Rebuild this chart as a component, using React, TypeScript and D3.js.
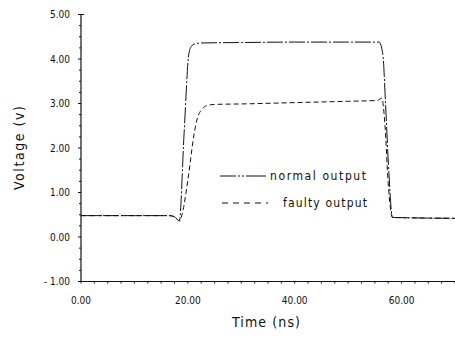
import React from "react";
import * as d3 from "d3";

const yTickValues = [5, 4, 3, 2, 1, 0, -1];
const xTickValues = [0, 20, 40, 60];

const normalT = [0, 10, 16.5, 17.4, 18.0, 18.4, 19.3, 20.2, 20.7, 21.3, 22.5, 30, 40, 50, 55.8, 56.5, 57.0, 57.6, 58.3, 62, 70];
const normalV = [0.48, 0.48, 0.48, 0.46, 0.40, 0.36, 2.34, 4.13, 4.29, 4.34, 4.36, 4.37, 4.38, 4.38, 4.38, 4.1, 3.0, 1.5, 0.44, 0.43, 0.42];

const faultyT = [0, 10, 16.5, 17.4, 18.0, 18.4, 18.9, 20.0, 21.2, 21.8, 22.5, 23.5, 25, 30, 40, 50, 55.5, 56.3, 56.9, 57.5, 58.3, 62, 70];
const faultyV = [0.48, 0.48, 0.48, 0.46, 0.40, 0.36, 0.5, 1.28, 2.34, 2.68, 2.85, 2.95, 2.98, 2.99, 3.02, 3.05, 3.07, 3.12, 2.5, 1.2, 0.44, 0.43, 0.42];

const legendLabels = ["normal output", "faulty output"];

const W = 455;
const H = 344;
const font = "'DejaVu Sans Condensed', 'Liberation Sans Narrow', 'DejaVu Sans', sans-serif";

export default function App() {
  const x = d3.scaleLinear().domain([0, 70]).range([81, 455]);
  const y = d3.scaleLinear().domain([-1, 5]).range([281.5, 14.5]);

  const line = d3
    .line<[number, number]>()
    .x((d) => x(d[0]))
    .y((d) => y(d[1]))
    .curve(d3.curveMonotoneX);

  const normalPts = normalT.map((t, i) => [t, normalV[i]] as [number, number]);
  const faultyPts = faultyT.map((t, i) => [t, faultyV[i]] as [number, number]);

  const yMinor = d3.range(-1, 5.001, 0.25);
  const xMinor = d3.range(0, 70.001, 2.5);

  return (
    <svg
      width={W}
      height={H}
      style={{ position: "absolute", left: 0, top: 0, background: "#fff" }}
      fontFamily={font}
    >
      <rect x={0} y={0} width={W} height={H} fill="#fff" />
      {/* axes */}
      <line x1={x(0)} x2={x(0)} y1={y(5)} y2={y(-1)} stroke="#111" strokeWidth={1.2} />
      <line x1={x(0)} x2={x(70)} y1={y(-1)} y2={y(-1)} stroke="#111" strokeWidth={1.2} />
      <line x1={x(0)} x2={x(0) + 3} y1={y(5)} y2={y(5)} stroke="#111" strokeWidth={1} />
      {yMinor.map((v, i) => (
        <line key={"ym" + i} x1={x(0) - (Math.abs(v - Math.round(v)) < 1e-6 ? 3 : 2)} x2={x(0)} y1={y(v)} y2={y(v)} stroke="#111" strokeWidth={1} />
      ))}
      {xMinor.map((v, i) => (
        <line key={"xm" + i} x1={x(v)} x2={x(v)} y1={y(-1)} y2={y(-1) + 2} stroke="#111" strokeWidth={1} />
      ))}
      {yTickValues.map((v) => (
        <text key={"yl" + v} x={70} y={y(v)} dy="0.35em" textAnchor="end" fontSize={10} fill="#111">
          {v < 0 ? "- " + Math.abs(v).toFixed(2) : v.toFixed(2)}
        </text>
      ))}
      {xTickValues.map((v) => (
        <text key={"xl" + v} x={x(v)} y={300} dy="0.35em" textAnchor="middle" fontSize={10} fill="#111">
          {v.toFixed(2)}
        </text>
      ))}
      <text x={266} y={322} dy="0.35em" textAnchor="middle" fontSize={14} fill="#111" textLength={68} lengthAdjust="spacing">
        Time (ns)
      </text>
      <text
        transform={`translate(19,148) rotate(-90)`}
        textAnchor="middle"
        dy="0.35em"
        fontSize={14}
        fill="#111"
        textLength={84}
        lengthAdjust="spacing"
      >
        Voltage (v)
      </text>

      {/* data */}
      <path d={line(normalPts) || ""} fill="none" stroke="#111" strokeWidth={1} strokeDasharray="16,2,2,2" />
      <path d={line(faultyPts) || ""} fill="none" stroke="#111" strokeWidth={1} strokeDasharray="5,3" />

      {/* legend */}
      <line x1={220} x2={268} y1={176} y2={176} stroke="#111" strokeWidth={1} strokeDasharray="16,2,2,2,2,2,20" />
      <text x={270} y={176} dy="0.35em" textAnchor="start" fontSize={12} fill="#111" textLength={96} lengthAdjust="spacing">
        {legendLabels[0]}
      </text>
      <line x1={222} x2={268} y1={203} y2={203} stroke="#111" strokeWidth={1} strokeDasharray="6,5" />
      <text x={283} y={203} dy="0.35em" textAnchor="start" fontSize={12} fill="#111" textLength={84} lengthAdjust="spacing">
        {legendLabels[1]}
      </text>
    </svg>
  );
}
